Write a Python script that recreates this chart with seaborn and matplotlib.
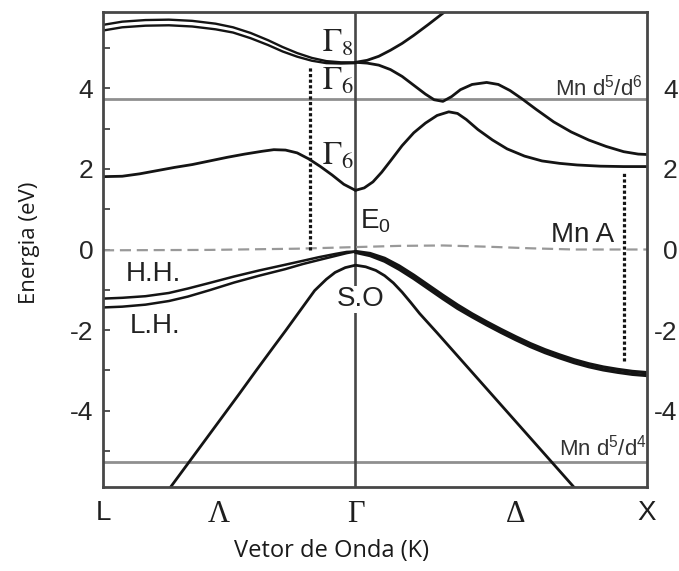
import matplotlib
matplotlib.use("Agg")
import matplotlib.pyplot as plt
import seaborn as sns

# ---- high-symmetry points along L - Γ - X (Γ at the origin, |ΓX| = 1) ----
kpoint_pos = [-0.866, -0.468, 0.0, 0.551, 1.0]
kpoint_labels = ["L", "Λ", "Γ", "Δ", "X"]

# ---- energy axis ----
energy_ticks = [-4, -2, 0, 2, 4]
energy_labels = ["-4", "-2", "0", "2", "4"]
energy_minor = [-5, -3, -1, 1, 3, 5]

# ---- conduction bands ----
# Γ8 pair along Λ (two nearly degenerate branches)
k_g8_left = [-0.866, -0.80, -0.72, -0.64, -0.56, -0.48, -0.42, -0.36, -0.30, -0.25,
             -0.20, -0.15, -0.10, -0.05, 0.0]
e_g8_left_a = [5.58, 5.66, 5.70, 5.71, 5.68, 5.61, 5.52, 5.38, 5.20, 5.03,
               4.88, 4.76, 4.68, 4.65, 4.65]
e_g8_left_b = [5.44, 5.52, 5.56, 5.57, 5.54, 5.47, 5.39, 5.25, 5.08, 4.92,
               4.79, 4.69, 4.63, 4.62, 4.63]

# Γ8 branches along Δ
k_g8_up = [0.0, 0.04, 0.08, 0.12, 0.16, 0.20, 0.25, 0.30, 0.33]
e_g8_up = [4.65, 4.70, 4.80, 4.95, 5.12, 5.32, 5.59, 5.87, 6.05]

k_g8_down = [0.0, 0.04, 0.08, 0.12, 0.16, 0.20, 0.24, 0.27, 0.30, 0.33, 0.36, 0.40,
             0.45, 0.49, 0.53, 0.57, 0.62, 0.68, 0.74, 0.80, 0.86, 0.92, 0.97, 1.0]
e_g8_down = [4.65, 4.63, 4.58, 4.47, 4.30, 4.08, 3.86, 3.72, 3.68, 3.80, 3.97, 4.10,
             4.15, 4.10, 3.95, 3.75, 3.48, 3.17, 2.92, 2.72, 2.56, 2.43, 2.37, 2.36]

# lowest conduction band (Γ6)
k_g6_left = [-0.866, -0.80, -0.74, -0.68, -0.62, -0.56, -0.50, -0.44, -0.38, -0.32,
             -0.28, -0.24, -0.20, -0.16, -0.12, -0.08, -0.04, 0.0]
e_g6_left = [1.81, 1.82, 1.88, 1.96, 2.04, 2.11, 2.20, 2.29, 2.37, 2.44,
             2.48, 2.47, 2.40, 2.25, 2.06, 1.85, 1.62, 1.47]
k_g6_right = [0.0, 0.03, 0.06, 0.09, 0.12, 0.16, 0.20, 0.24, 0.28, 0.32, 0.35, 0.38,
              0.42, 0.47, 0.52, 0.58, 0.64, 0.70, 0.76, 0.84, 0.92, 1.0]
e_g6_right = [1.47, 1.53, 1.68, 1.92, 2.20, 2.58, 2.90, 3.14, 3.33, 3.42, 3.38, 3.23,
              2.98, 2.72, 2.50, 2.32, 2.20, 2.14, 2.10, 2.07, 2.06, 2.06]

# ---- valence bands ----
k_vb_left = [-0.866, -0.80, -0.72, -0.64, -0.575, -0.50, -0.416, -0.33, -0.242,
             -0.18, -0.125, -0.069, -0.03, 0.0]
e_hh_left = [-1.22, -1.20, -1.16, -1.08, -0.97, -0.83, -0.67, -0.52, -0.38,
             -0.28, -0.19, -0.11, -0.06, -0.05]
e_lh_left = [-1.44, -1.42, -1.37, -1.28, -1.17, -1.01, -0.82, -0.65, -0.49,
             -0.36, -0.26, -0.16, -0.09, -0.05]

k_vb_right = [0.0, 0.05, 0.10, 0.15, 0.20, 0.25, 0.30, 0.35, 0.40, 0.45, 0.50,
              0.55, 0.60, 0.65, 0.70, 0.75, 0.80, 0.85, 0.90, 0.95, 1.0]
e_hh_right = [-0.05, -0.10, -0.22, -0.41, -0.64, -0.89, -1.14, -1.38, -1.60, -1.80,
              -1.99, -2.17, -2.34, -2.49, -2.62, -2.74, -2.84, -2.92, -2.98, -3.03, -3.06]
e_lh_right = [-0.07, -0.15, -0.29, -0.49, -0.72, -0.97, -1.22, -1.46, -1.67, -1.87,
              -2.06, -2.24, -2.41, -2.56, -2.69, -2.81, -2.91, -2.99, -3.05, -3.10, -3.13]

# split-off band
k_so = [-0.634, -0.58, -0.52, -0.46, -0.40, -0.34, -0.28, -0.24, -0.20, -0.17, -0.14,
        -0.10, -0.07, -0.035, 0.0, 0.035, 0.07, 0.10, 0.13, 0.16, 0.19, 0.22, 0.28,
        0.34, 0.40, 0.46, 0.52, 0.58, 0.64, 0.70, 0.755]
e_so = [-5.90, -5.37, -4.78, -4.19, -3.60, -3.00, -2.41, -2.02, -1.62, -1.32, -1.02,
        -0.74, -0.57, -0.45, -0.39, -0.43, -0.52, -0.65, -0.83, -1.06, -1.32, -1.59, -2.07,
        -2.56, -3.05, -3.54, -4.03, -4.52, -5.01, -5.50, -5.95]

# ---- Mn-related levels ----
mn_d5_d6 = 3.74
mn_d5_d4 = -5.29
k_mn_acceptor = [-0.866, -0.5, -0.2, 0.0, 0.15, 0.30, 0.45, 0.60, 0.75, 1.0]
e_mn_acceptor = [-0.02, -0.01, 0.02, 0.06, 0.09, 0.10, 0.07, 0.03, 0.0, 0.0]

# optical transitions (vertical dotted markers)
trans_k = [-0.156, 0.92]
trans_lo = [0.0, -2.78]
trans_hi = [4.55, 1.95]

# ---------------------------------------------------------------------------
sns.set_style("white")
plt.rcParams["font.family"] = ["Liberation Sans", "DejaVu Sans"]

W, H = 679, 571
fig = plt.figure(figsize=(W / 100, H / 100), dpi=100)
ax = fig.add_axes([103 / W, 84 / H, 544 / W, 475 / H])

ink = "#141414"
frame = "#474747"


def band(k, e, lw=2.0, **kw):
    sns.lineplot(x=k, y=e, ax=ax, color=kw.pop("color", ink), linewidth=lw,
                 sort=False, estimator=None, **kw)


# Mn d-levels
ax.axhline(mn_d5_d6, color="#8f8f8f", lw=2.0, zorder=1)
ax.axhline(mn_d5_d4, color="#8f8f8f", lw=2.0, zorder=1)

# Γ line
ax.axvline(0.0, color=frame, lw=1.9, zorder=1)

# Mn acceptor level
sns.lineplot(x=k_mn_acceptor, y=e_mn_acceptor, ax=ax, color="#999999", linewidth=1.6,
             linestyle=(0, (5, 2.6)), sort=False, estimator=None, zorder=2)

# conduction bands
band(k_g8_left, e_g8_left_a, lw=1.7)
band(k_g8_left, e_g8_left_b, lw=1.7)
band(k_g8_up, e_g8_up)
band(k_g8_down, e_g8_down)
band(k_g6_left, e_g6_left)
band(k_g6_right, e_g6_right)

# valence bands
band(k_vb_left, e_hh_left, lw=1.8)
band(k_vb_left, e_lh_left, lw=1.8)
band(k_vb_right, e_hh_right, lw=2.4)
band(k_vb_right, e_lh_right, lw=2.4)
band(k_so, e_so)

# transitions
for kk, lo, hi in zip(trans_k, trans_lo, trans_hi):
    ax.plot([kk, kk], [lo, hi], color=ink, lw=2.3, linestyle=(0, (1, 0.75)), zorder=3)

# axes limits and frame
ax.set_xlim(kpoint_pos[0], kpoint_pos[-1])
ax.set_ylim(-5.9, 5.9)
for s in ax.spines.values():
    s.set_color(frame)
    s.set_linewidth(2.0)
    s.set_visible(True)

ax.set_yticks(energy_ticks)
ax.set_yticklabels(energy_labels)
ax.set_yticks(energy_minor, minor=True)
ax.tick_params(axis="y", which="both", direction="in", length=5, width=1.3, color=frame,
               left=True, right=True, labelleft=True, labelright=False,
               pad=7, labelsize=19, labelcolor="#262626")

ax_r = ax.twinx()
ax_r.set_ylim(ax.get_ylim())
ax_r.set_yticks(energy_ticks)
ax_r.set_yticklabels(energy_labels)
ax_r.set_yticks(energy_minor, minor=True)
ax_r.tick_params(axis="y", which="both", direction="in", length=0, pad=22,
                 labelsize=19, labelcolor="#262626")
for lbl in ax_r.get_yticklabels():
    lbl.set_horizontalalignment("right")
for s in ax_r.spines.values():
    s.set_visible(False)

ax.set_xticks(kpoint_pos)
ax.set_xticklabels(kpoint_labels)
ax.tick_params(axis="x", length=0, pad=9, labelsize=20, labelcolor="#1e1e1e")
for lbl, name in zip(ax.get_xticklabels(), kpoint_labels):
    if name in ("Λ", "Γ", "Δ"):
        lbl.set_fontfamily("Liberation Serif")
        lbl.set_fontsize(22)
ax.set_xlabel("")
ax.set_ylabel("")

# band labels
serif = dict(math_fontfamily="stix", fontsize=23, color="#222222",
             ha="center", va="center", zorder=6)
ax.text(-0.062, 5.12, r"$\Gamma_8$", **serif)
ax.text(-0.062, 4.17, r"$\Gamma_6$", **serif)
ax.text(-0.062, 2.31, r"$\Gamma_6$", **serif)

sans = dict(fontsize=20, color="#222222", ha="center", va="center", zorder=6)
ax.text(0.068, 0.70, r"E$\mathregular{_0}$", **sans)
ax.text(0.017, -1.24, "S.O", bbox=dict(facecolor="white", edgecolor="none", pad=0.5), **sans)
ax.text(-0.692, -0.62, "H.H.", **sans)
ax.text(-0.688, -1.89, "L.H.", **sans)
ax.text(0.78, 0.37, "Mn A", **sans)

small = dict(fontsize=16, color="#333333", ha="right", va="center", zorder=6)
ax.text(0.985, 4.03, r"Mn d$\mathregular{^5}$/d$\mathregular{^6}$", **small)
ax.text(1.0, -4.92, r"Mn d$\mathregular{^5}$/d$\mathregular{^4}$", **small)

# axis titles
fig.text(331 / W, 1 - 551 / H, "Vetor de Onda (K)", family="Open Sans", fontsize=17,
         color="#1a1a1a", ha="center", va="center")
fig.text(30 / W, 1 - 243 / H, "Energia (eV)", family="Open Sans", fontsize=16,
         color="#1a1a1a", ha="center", va="center", rotation=90)

fig.savefig("out.png", dpi=100, facecolor="white")
